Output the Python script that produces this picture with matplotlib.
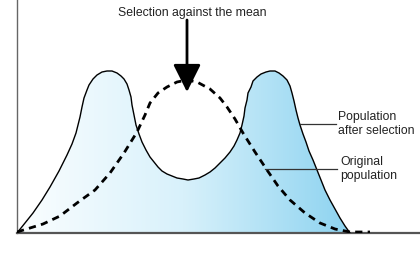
import numpy as np
import matplotlib
matplotlib.use("Agg")
from matplotlib import pyplot as plt
from matplotlib.colors import LinearSegmentedColormap

plt.rcParams['font.family'] = ['Liberation Sans', 'DejaVu Sans']

# population after selection (bimodal), trait value vs frequency
after_x = [0, 8, 16, 25, 33, 42, 50, 55, 59, 63, 65, 67, 70, 72, 76, 80, 85, 90, 95,
           100, 104, 107, 110, 112, 114, 115, 117, 119, 122, 125, 129,
           133, 137, 141, 145, 150, 155, 160, 166, 171, 177, 182, 188, 193, 198, 203, 208,
           213, 217, 220, 223, 225, 227, 228, 230, 231, 234, 236, 240,
           244, 249, 253, 258, 262, 266, 270, 273, 275, 277, 279, 281, 283, 286, 289,
           292, 296, 300, 304, 308, 313, 318, 323, 328, 333]
after_y = [0, 10, 20, 33, 46, 62, 78, 89, 100, 116, 126, 135, 143, 148, 154, 158, 161, 162, 162,
           160, 157, 154, 149, 143, 136, 128, 118, 108, 99, 91, 83,
           76, 71, 66, 62, 59, 57, 55, 54, 53, 54, 55, 58, 61, 65, 70, 75,
           81, 87, 93, 100, 108, 117, 125, 133, 140, 146, 152, 156,
           159, 161, 162, 162, 160, 157, 153, 147, 140, 132, 123, 115, 108, 99, 91,
           82, 73, 63, 53, 43, 33, 24, 15, 7, 0]

# original population (dashed)
orig_x = [0, 26, 43, 60, 78, 93, 107, 120, 128, 133, 141, 150, 160, 170, 180,
          193, 203, 210, 218, 226, 238, 250, 261, 273, 288, 303, 318, 333, 353]
orig_y = [1, 9, 17, 30, 43, 60, 80, 101, 118, 130, 140, 146, 151, 153, 151,
          144, 135, 126, 114, 100, 81, 63, 47, 33, 20, 10, 4, 1, 1]

arrow_text = "Selection against the mean"
label_after = "Population\nafter selection"
label_orig = "Original\npopulation"

fig = plt.figure(figsize=(4.2, 2.57), dpi=100)
ax = fig.add_axes([17/420, 24/257, 403/420, 233/257])
ax.set_xlim(0, 403)
ax.set_ylim(0, 233)

# gradient fill clipped to the curve
poly = ax.fill_between(after_x, after_y, 0, facecolor='none', edgecolor='none')
cmap = LinearSegmentedColormap.from_list(
    'blu', [(0, '#fbfeff'), (0.5, '#d8f1fb'), (1, '#8dd3f0')])
grad = np.linspace(0, 1, 256).reshape(1, -1)
im = ax.imshow(grad, cmap=cmap, aspect='auto', extent=[0, 333, 0, 233],
               origin='lower', zorder=1)
im.set_clip_path(poly.get_paths()[0], transform=ax.transData)

ax.plot(after_x, after_y, color='black', lw=1.0, zorder=3)
ax.plot(orig_x, orig_y, color='black', lw=2.0, zorder=4,
        linestyle=(0, (2.6, 1.9)))

# arrow and label
ax.annotate('', xy=(170, 141), xytext=(170, 213),
            arrowprops=dict(arrowstyle='-|>,head_length=1.7,head_width=0.85',
                            color='black', lw=2.0, shrinkA=0, shrinkB=0),
            zorder=5)
ax.text(175, 220, arrow_text, ha='center', va='center', fontsize=8.8, color='#222222')

# leader lines
ax.plot([283, 319], [109, 109], color='#333333', lw=0.9, zorder=5)
ax.text(321, 109, label_after, ha='left', va='center', fontsize=8.8,
        color='#222222', linespacing=1.2)
ax.plot([248, 320], [64, 64], color='#333333', lw=0.9, zorder=5)
ax.text(323, 64, label_orig, ha='left', va='center', fontsize=8.8,
        color='#222222', linespacing=1.2)

ax.set_xticks([])
ax.set_yticks([])
ax.spines['top'].set_visible(False)
ax.spines['right'].set_visible(False)
ax.spines['left'].set_color('#666666')
ax.spines['left'].set_linewidth(1.0)
ax.spines['bottom'].set_color('#555555')
ax.spines['bottom'].set_linewidth(1.6)

fig.savefig('out.png', dpi=100)
